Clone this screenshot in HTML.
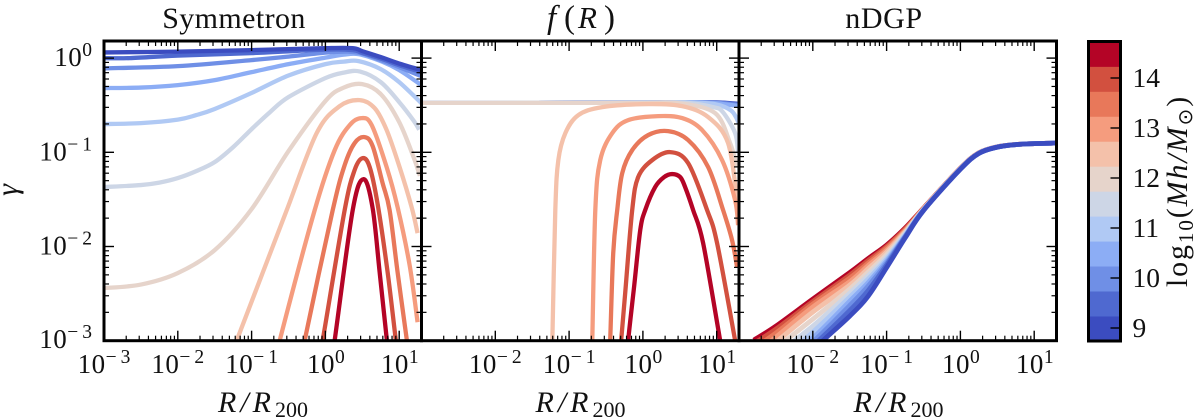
<!DOCTYPE html>
<html lang="en">
<head>
<meta charset="utf-8">
<title>Gamma profiles by halo mass</title>
<style>
html,body{margin:0;padding:0;background:#fff;}
svg{display:block;font-family:"Liberation Serif",serif;fill:#111;}
.title{font-size:30px;}
.xlab{font-size:30px;font-style:italic;letter-spacing:4px;}
.sub{font-size:22px;font-style:normal;letter-spacing:0;}
</style>
</head>
<body>
<svg id="chart" xmlns="http://www.w3.org/2000/svg" width="1200" height="420" viewBox="0 0 1200 420">
  <rect x="0" y="0" width="1200" height="420" fill="#fff"/>
  <g id="panels"></g>
  <text class="title" x="234" y="28" text-anchor="middle" letter-spacing="0.4">Symmetron</text>
  <text class="title" y="28"><tspan x="547" font-style="italic" font-size="33">f</tspan><tspan x="564" font-size="33">(</tspan><tspan x="578" font-style="italic" font-size="31">R</tspan><tspan x="604" font-size="33">)</tspan></text>
  <text class="title" x="884" y="28" text-anchor="middle" letter-spacing="0.6">nDGP</text>
  <text class="xlab" x="263" y="412" text-anchor="middle">R/R<tspan class="sub" dy="5">200</tspan></text>
  <text class="xlab" x="580.5" y="412" text-anchor="middle">R/R<tspan class="sub" dy="5">200</tspan></text>
  <text class="xlab" x="898.5" y="412" text-anchor="middle">R/R<tspan class="sub" dy="5">200</tspan></text>
  <text transform="translate(17,190) rotate(-90)" text-anchor="middle" font-size="30" font-style="italic">γ</text>
  <g id="colorbar"></g>
  <text transform="translate(1187,191) rotate(-90)" text-anchor="middle" font-size="30" letter-spacing="1.9">log<tspan font-size="21" dy="6">10</tspan><tspan dy="-6">(</tspan><tspan font-style="italic">Mh/M</tspan><tspan font-size="20" dy="5" font-family="'DejaVu Sans',sans-serif">⊙</tspan><tspan dy="-5">)</tspan></text>
</svg>
<script>
/* Halo mass levels of the twelve series (log10 Mh/Msun), low to high */
const massLevels = [9, 9.5, 10, 10.5, 11, 11.5, 12, 12.5, 13, 13.5, 14, 14.5];
const levelColors = ['#3b4cc0','#4f69d0','#6f8fe6','#8cadf5','#b0c9f4','#cdd6e6','#e6d4cb','#f4c1aa','#f59c7e','#e8785a','#d2503f','#b40426'];

/* Tick values */
const xTickExponents = [-3, -2, -1, 0, 1];
const yTickExponents = [0, -1, -2, -3];
const minorMultipliers = [2, 3, 4, 5, 6, 7, 8, 9];
const colorbarTicks = [9, 10, 11, 12, 13, 14];

/* Symmetron: log10(R/R200) per series */
const symmetronLogR = [
  [-3,-2,-1,0,0.37,0.5,0.75,1,1.3],
  [-3,-2.65,-2,-1,0,0.37,0.5,0.75,1,1.3],
  [-3,-2,-1,-0.5,0,0.3,0.5,0.75,1,1.3],
  [-3,-2.5,-2,-1.5,-1,-0.5,0,0.25,0.45,0.75,1,1.3],
  [-3,-2.5,-2,-1.75,-1.5,-1,-0.5,0,0.25,0.45,0.75,1,1.3],
  [-3,-2.5,-2.25,-2,-1.75,-1.5,-1.25,-1,-0.75,-0.5,0,0.25,0.47,0.75,1,1.2,1.27],
  [-3,-2.5,-2,-1.5,-1,-0.5,0,0.25,0.5,0.75,1,1.2,1.28],
  [-1.363,-1.2,-0.862,-0.524,-0.118,0.194,0.464,0.667,0.83,1.005,1.168,1.249],
  [-0.75,-0.618,-0.145,0.126,0.329,0.491,0.627,0.83,0.978,1.141,1.249],
  [-0.4,-0.28,0.099,0.261,0.396,0.532,0.64,0.775,0.87,0.978,1.1,1.141],
  [-0.15,-0.036,0.261,0.396,0.505,0.6,0.708,0.843,0.951,0.992],
  [0.058,0.126,0.37,0.518,0.64,0.735,0.83,0.87]
];
/* Symmetron: log10(gamma) per series */
const symmetronLogGamma = [
  [0.06,0.069,0.085,0.106,0.106,0.074,0.011,-0.058,-0.127],
  [0,0,0.027,0.053,0.09,0.085,0.055,-0.005,-0.075,-0.15],
  [-0.109,-0.085,-0.021,0.016,0.058,0.069,0.048,-0.021,-0.096,-0.191],
  [-0.318,-0.313,-0.287,-0.234,-0.149,-0.064,0.005,0.037,0.042,-0.032,-0.127,-0.287],
  [-0.7,-0.69,-0.653,-0.605,-0.54,-0.37,-0.185,-0.064,-0.037,-0.032,-0.117,-0.255,-0.478],
  [-1.369,-1.348,-1.322,-1.274,-1.2,-1.104,-0.945,-0.754,-0.573,-0.414,-0.212,-0.154,-0.143,-0.255,-0.467,-0.669,-0.76],
  [-2.442,-2.404,-2.282,-2.038,-1.603,-0.987,-0.456,-0.313,-0.276,-0.382,-0.679,-1.062,-1.25],
  [-3.333,-2.994,-2.304,-1.614,-0.796,-0.51,-0.446,-0.531,-0.764,-1.157,-1.582,-1.858],
  [-3.45,-2.994,-1.614,-0.977,-0.711,-0.637,-0.711,-1.157,-1.582,-2.197,-2.803],
  [-3.5,-2.994,-1.614,-1.136,-0.902,-0.839,-0.934,-1.327,-1.614,-2.272,-2.973,-3.206],
  [-3.5,-2.994,-1.614,-1.189,-1.062,-1.157,-1.55,-2.272,-2.973,-3.206],
  [-3.33,-2.994,-1.614,-1.285,-1.592,-2.272,-2.973,-3.206]
];

/* f(R): log10(R/R200) per series */
const fofrLogR = [
  [-3,0,0.5,1,1.3],
  [-3,0,0.5,1,1.3],
  [-3,0,0.5,1,1.3],
  [-3,0,0.8,1.1,1.3],
  [-3,0,0.6,0.98,1.2,1.3],
  [-3,0,0.6,0.95,1.08,1.25,1.29],
  [-3,-1,0,0.5,0.978,1.181,1.276],
  [-1.241,-1.227,-1.187,-1.146,-1.051,-0.875,-0.55,0.072,0.532,0.884,1.154,1.276],
  [-0.7,-0.686,-0.645,-0.578,-0.415,-0.199,0.207,0.532,0.802,1.073,1.249,1.29],
  [-0.46,-0.443,-0.402,-0.348,-0.28,-0.145,0.072,0.342,0.613,0.884,1.087,1.208,1.276],
  [-0.32,-0.294,-0.24,-0.145,-0.064,0.126,0.369,0.613,0.87,1.005,1.249,1.276],
  [-0.24,-0.199,-0.117,-0.036,0.031,0.166,0.288,0.396,0.505,0.572,0.681,0.816,1.046,1.1]
];
/* f(R): log10(gamma) per series */
const fofrLogGamma = [
  [-0.475,-0.47,-0.468,-0.47,-0.485],
  [-0.475,-0.47,-0.468,-0.472,-0.49],
  [-0.475,-0.47,-0.468,-0.475,-0.5],
  [-0.475,-0.47,-0.47,-0.49,-0.51],
  [-0.475,-0.47,-0.47,-0.49,-0.56,-0.69],
  [-0.475,-0.472,-0.475,-0.52,-0.57,-0.796,-1.008],
  [-0.475,-0.475,-0.475,-0.48,-0.584,-0.902,-1.157],
  [-3.333,-2.994,-1.614,-1.083,-0.796,-0.605,-0.52,-0.488,-0.51,-0.626,-0.902,-1.507],
  [-3.3,-2.994,-1.614,-1.083,-0.796,-0.658,-0.616,-0.637,-0.764,-1.083,-1.507,-1.773],
  [-3.3,-2.994,-2.07,-1.614,-1.221,-0.977,-0.817,-0.775,-0.87,-1.157,-1.614,-1.932,-2.219],
  [-3.3,-2.994,-2.495,-1.614,-1.263,-1.083,-0.998,-1.115,-1.614,-1.964,-2.994,-3.12],
  [-3.4,-2.994,-2.41,-1.826,-1.614,-1.369,-1.263,-1.231,-1.263,-1.369,-1.614,-1.964,-2.994,-3.227]
];

/* nDGP: log10(R/R200) shared by all series */
const ndgpLogR = [-2.8,-2.5,-2,-1.5,-1.25,-1,-0.75,-0.5,0,0.25,0.5,0.75,1,1.31];
/* nDGP: log10(gamma) per series */
const ndgpLogGamma = [
  [-3.7,-3.5,-3.1,-2.739,-2.527,-2.224,-1.911,-1.619,-1.18,-1.012,-0.945,-0.918,-0.908,-0.902],
  [-3.6,-3.41,-3.057,-2.68,-2.468,-2.197,-1.9,-1.616,-1.178,-1.011,-0.945,-0.918,-0.908,-0.902],
  [-3.54,-3.35,-3.015,-2.627,-2.42,-2.176,-1.895,-1.614,-1.177,-1.011,-0.945,-0.918,-0.908,-0.902],
  [-3.48,-3.29,-2.972,-2.58,-2.383,-2.155,-1.89,-1.612,-1.176,-1.01,-0.944,-0.918,-0.908,-0.902],
  [-3.41,-3.22,-2.909,-2.537,-2.346,-2.134,-1.879,-1.61,-1.175,-1.01,-0.944,-0.918,-0.908,-0.902],
  [-3.34,-3.15,-2.845,-2.495,-2.309,-2.113,-1.868,-1.607,-1.174,-1.009,-0.944,-0.918,-0.908,-0.902],
  [-3.27,-3.08,-2.771,-2.452,-2.272,-2.086,-1.858,-1.605,-1.173,-1.009,-0.944,-0.918,-0.908,-0.902],
  [-3.2,-3.015,-2.696,-2.41,-2.235,-2.059,-1.847,-1.602,-1.172,-1.008,-0.943,-0.918,-0.908,-0.902],
  [-3.14,-2.962,-2.643,-2.373,-2.203,-2.038,-1.837,-1.6,-1.171,-1.008,-0.943,-0.918,-0.908,-0.902],
  [-3.08,-2.919,-2.611,-2.335,-2.176,-2.017,-1.826,-1.597,-1.17,-1.007,-0.943,-0.918,-0.908,-0.902],
  [-3.03,-2.877,-2.585,-2.304,-2.149,-2.001,-1.815,-1.595,-1.169,-1.007,-0.942,-0.918,-0.908,-0.902],
  [-2.994,-2.845,-2.558,-2.277,-2.128,-1.985,-1.805,-1.592,-1.168,-1.006,-0.942,-0.918,-0.908,-0.902]
];

const NS = 'http://www.w3.org/2000/svg';
const panelsRoot = document.getElementById('panels');
const colorbarRoot = document.getElementById('colorbar');
const PLOT_TOP = 41, PLOT_BOTTOM = 340.7, DECADE_X = 73.8, DECADE_Y = 94.2;
const panelLefts = [104, 421.5, 739];
const panelWidth = 317.5;
const panelKeys = ['symmetron', 'f-of-r', 'ndgp'];
const panelStroke = [4.3, 4.3, 4.8];

function xAxis(left, logR) { return left + (logR + 3) * DECADE_X; }
function yAxis(logGamma) { return PLOT_BOTTOM - (logGamma + 3) * DECADE_Y; }

function make(tag, attrs, parent) {
  const el = document.createElementNS(NS, tag);
  for (const k in attrs) el.setAttribute(k, attrs[k]);
  parent.appendChild(el);
  return el;
}

function smoothPath(pts) {
  let d = 'M' + pts[0][0].toFixed(2) + ' ' + pts[0][1].toFixed(2);
  for (let i = 0; i < pts.length - 1; i++) {
    const p0 = pts[Math.max(0, i - 1)], p1 = pts[i], p2 = pts[i + 1], p3 = pts[Math.min(pts.length - 1, i + 2)];
    const c1x = p1[0] + (p2[0] - p0[0]) / 6, c1y = p1[1] + (p2[1] - p0[1]) / 6;
    const c2x = p2[0] - (p3[0] - p1[0]) / 6, c2y = p2[1] - (p3[1] - p1[1]) / 6;
    d += 'C' + c1x.toFixed(2) + ' ' + c1y.toFixed(2) + ' ' + c2x.toFixed(2) + ' ' + c2y.toFixed(2) + ' ' + p2[0].toFixed(2) + ' ' + p2[1].toFixed(2);
  }
  return d;
}

function drawSeries(panelIndex, radii, gammas, order) {
  const left = panelLefts[panelIndex];
  const key = panelKeys[panelIndex];
  const group = make('g', { 'clip-path': 'url(#clip-' + key + ')' }, panelsRoot);
  
  
  order.forEach(function (i) {
    const rs = radii[i];
    const gs = gammas[i];
    const pts = gs.map(function (g, j) { return [xAxis(left, rs[j]), yAxis(g)]; });
    const line = make('path', { d: smoothPath(pts), fill: 'none', stroke: levelColors[i], 'stroke-width': panelStroke[panelIndex], 'stroke-linejoin': 'round' }, group);
    
    
  });
}

function tickLine(parent, x1, y1, x2, y2, w, name) {
  const t = make('line', { x1: x1, y1: y1, x2: x2, y2: y2, stroke: '#000', 'stroke-width': w }, parent);
  
  
}

function powerLabel(parent, x, y, anchor, exponent, name) {
  const label = make('text', { x: x, y: y, 'text-anchor': anchor, 'font-size': 27, 'letter-spacing': 0.5 }, parent);
  
  
  label.appendChild(document.createTextNode('10'));
  const sup = make('tspan', { dy: -10, 'font-size': 19.5, 'letter-spacing': exponent < 0 ? 4 : 0 }, label);
  sup.textContent = String(exponent).replace('-', '\u2212');
}

/* clip regions */
const defs = make('defs', {}, panelsRoot);
panelLefts.forEach(function (left, p) {
  const clip = make('clipPath', { id: 'clip-' + panelKeys[p] }, defs);
  make('rect', { x: left, y: PLOT_TOP, width: panelWidth, height: PLOT_BOTTOM - PLOT_TOP }, clip);
});

const ascending = massLevels.map(function (_, i) { return i; });
const descending = ascending.slice().reverse();
drawSeries(0, symmetronLogR, symmetronLogGamma, descending);
drawSeries(1, fofrLogR, fofrLogGamma, ascending);
drawSeries(2, ndgpLogGamma.map(function () { return ndgpLogR; }), ndgpLogGamma, descending);

/* ticks, labels, spines */
panelLefts.forEach(function (left, p) {
  const key = panelKeys[p];
  const right = left + panelWidth;
  const axes = make('g', {}, panelsRoot);
  
  

  xTickExponents.forEach(function (e) {
    const x = xAxis(left, e);
    if (!(p > 0 && e === -3)) {
      tickLine(axes, x, PLOT_BOTTOM, x, PLOT_BOTTOM - 10, 1.4, key + '-x-major-tick-bottom');
      tickLine(axes, x, PLOT_TOP, x, PLOT_TOP + 10, 1.4, key + '-x-major-tick-top');
      powerLabel(axes, x + (e < 0 ? 2 : 0.5), 373, 'middle', e, key + '-x-tick-label');
    }
    minorMultipliers.forEach(function (m) {
      const mx = xAxis(left, e + Math.log10(m));
      if (mx < right - 3) {
        tickLine(axes, mx, PLOT_BOTTOM, mx, PLOT_BOTTOM - 5, 1.2, key + '-x-minor-tick-bottom');
        tickLine(axes, mx, PLOT_TOP, mx, PLOT_TOP + 5, 1.2, key + '-x-minor-tick-top');
      }
    });
  });

  yTickExponents.forEach(function (e) {
    const y = yAxis(e);
    tickLine(axes, left, y, left + 10, y, 1.4, key + '-y-major-tick-left');
    tickLine(axes, right, y, right - 10, y, 1.4, key + '-y-major-tick-right');
    if (e > -3) {
      minorMultipliers.forEach(function (m) {
        const my = yAxis(e - 1 + Math.log10(m));
        tickLine(axes, left, my, left + 5, my, 1.2, key + '-y-minor-tick-left');
        tickLine(axes, right, my, right - 5, my, 1.2, key + '-y-minor-tick-right');
      });
    }
    if (p === 0) {
      powerLabel(axes, e < 0 ? 96 : 92, y + (e === 0 ? 7.7 : e === -3 ? 7.5 : 8), 'end', e, 'y-tick-label');
    }
  });

  const frame = make('rect', { x: left, y: PLOT_TOP, width: panelWidth, height: PLOT_BOTTOM - PLOT_TOP, fill: 'none', stroke: '#000', 'stroke-width': 3 }, axes);
  
  
});

/* colorbar */
const CB_LEFT = 1088.5, CB_RIGHT = 1120.5, CB_TOP = 41.5, CB_BOTTOM = 341;
const CB_UNIT = 50;
const CB_NINE_Y = 328;
massLevels.forEach(function (m, i) {
  const h = (CB_BOTTOM - CB_TOP) / massLevels.length;
  const seg = make('rect', { x: CB_LEFT, y: CB_BOTTOM - (i + 1) * h, width: CB_RIGHT - CB_LEFT, height: h + 0.4, fill: levelColors[i] }, colorbarRoot);
  
  
});
colorbarTicks.forEach(function (v) {
  const y = CB_NINE_Y - (v - 9) * CB_UNIT;
  tickLine(colorbarRoot, CB_RIGHT, y, CB_RIGHT - 10, y, 1.4, 'colorbar-tick');
  const label = make('text', { x: 1132.5, y: y + 9, 'font-size': 27.5 }, colorbarRoot);
  
  
  label.textContent = String(v);
});
const cbFrame = make('rect', { x: CB_LEFT, y: CB_TOP, width: CB_RIGHT - CB_LEFT, height: CB_BOTTOM - CB_TOP, fill: 'none', stroke: '#000', 'stroke-width': 3 }, colorbarRoot);


</script>
</body>
</html>
